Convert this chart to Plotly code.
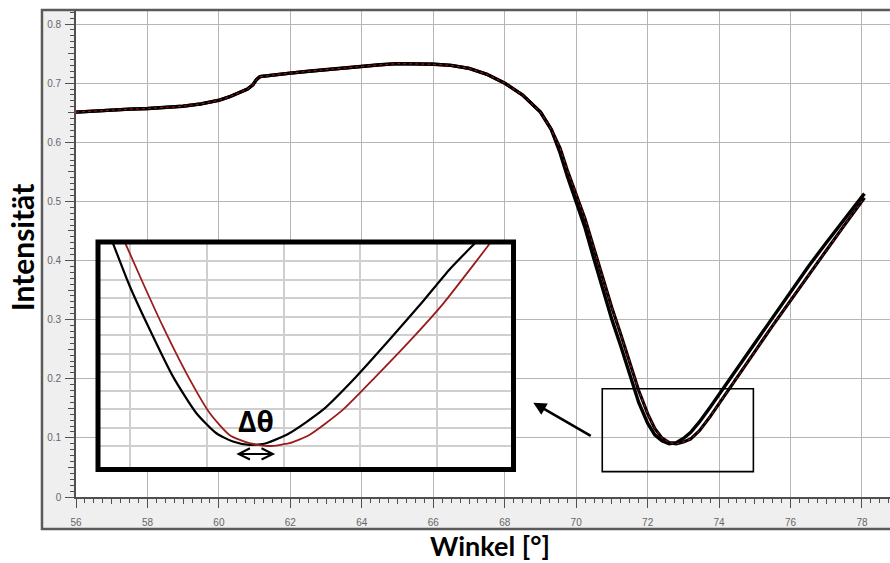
import plotly.graph_objects as go

# ---------------- data (main plot) ----------------
angle = [56, 56.5, 57, 57.5, 58, 58.5, 59, 59.5, 60, 60.3, 60.6, 60.8, 60.95, 61.05, 61.15, 61.4,
         62, 62.5, 63, 63.5, 64, 64.5, 65, 65.5, 66, 66.5, 67, 67.5, 68, 68.5, 69, 69.3,
         69.55, 69.75, 70.0, 70.25, 70.5, 70.75, 71.0, 71.25, 71.5, 71.75, 72.0, 72.2, 72.4,
         72.6, 72.8, 73.0, 73.2, 73.45, 73.75, 74.05, 74.35, 74.7, 75.0, 75.5, 76.0, 76.5,
         77.0, 77.5, 78.0, 78.07]
intensity_ref = [0.651, 0.653, 0.655, 0.656, 0.657, 0.659, 0.661, 0.665, 0.671, 0.677, 0.684, 0.690,
                 0.697, 0.706, 0.711, 0.713, 0.717, 0.720, 0.723, 0.726, 0.729, 0.731, 0.733, 0.733,
                 0.732, 0.730, 0.725, 0.715, 0.700, 0.680, 0.651, 0.622,
                 0.582, 0.543, 0.500, 0.455, 0.402, 0.350, 0.300, 0.255, 0.205, 0.160, 0.125, 0.105,
                 0.095, 0.090, 0.092, 0.099, 0.109, 0.127, 0.152, 0.178, 0.205, 0.236, 0.262, 0.305,
                 0.347, 0.390, 0.430, 0.470, 0.508, 0.513]
intensity_shift = [0.651, 0.653, 0.655, 0.656, 0.657, 0.659, 0.661, 0.665, 0.671, 0.677, 0.684, 0.690,
                   0.697, 0.706, 0.711, 0.713, 0.717, 0.720, 0.723, 0.726, 0.729, 0.731, 0.733, 0.733,
                   0.732, 0.730, 0.725, 0.715, 0.700, 0.680, 0.651, 0.622,
                   0.590, 0.553, 0.513, 0.470, 0.420, 0.370, 0.320, 0.275, 0.226, 0.180, 0.141, 0.116,
                   0.100, 0.092, 0.090, 0.093, 0.098, 0.112, 0.136, 0.162, 0.189, 0.220, 0.246, 0.290,
                   0.333, 0.376, 0.417, 0.459, 0.500, 0.506]

# ---------------- data (inset, zoom on the minimum) ----------------
inset_angle_ref = [72.155, 72.200, 72.252, 72.312, 72.373, 72.425, 72.468, 72.511, 72.555, 72.615,
                   72.702, 72.789, 72.875, 72.962, 73.031, 73.100]
inset_ref = [0.2000, 0.1761, 0.1527, 0.1275, 0.1077, 0.0969, 0.0924, 0.0906, 0.0915, 0.0969,
             0.1095, 0.1275, 0.1473, 0.1680, 0.1852, 0.2000]
inset_angle_shift = [72.187, 72.234, 72.286, 72.347, 72.408, 72.459, 72.511, 72.563, 72.615, 72.667,
                     72.754, 72.840, 72.927, 73.013, 73.091, 73.139]
inset_shift = [0.2000, 0.1780, 0.1545, 0.1293, 0.1077, 0.0960, 0.0915, 0.0900, 0.0915, 0.0960,
               0.1095, 0.1275, 0.1464, 0.1663, 0.1870, 0.2000]

x_ticks = [56, 58, 60, 62, 64, 66, 68, 70, 72, 74, 76, 78]
y_ticks = [0, 0.1, 0.2, 0.3, 0.4, 0.5, 0.6, 0.7, 0.8]
y_tick_text = ["0", "0.1", "0.2", "0.3", "0.4", "0.5", "0.6", "0.7", "0.8"]
x_mid_ticks = [57, 59, 61, 63, 65, 67, 69, 71, 73, 75, 77]
y_mid_ticks = [0.05, 0.15, 0.25, 0.35, 0.45, 0.55, 0.65, 0.75]
inset_x_grid = [72.2, 72.4, 72.6, 72.8, 73.0]
inset_y_grid = [0.09, 0.10, 0.11, 0.12, 0.13, 0.14, 0.15, 0.16, 0.17, 0.18, 0.19]

X_RANGE = [56, 78.784]
Y_RANGE = [0, 0.8237]
INSET_X_RANGE = [72.1167, 73.1987]
INSET_Y_RANGE = [0.0773, 0.2003]

AX_COL = "#505050"
TICK_FONT = dict(family="Liberation Sans Narrow, Liberation Sans, sans-serif", size=10, color="#666666")
RED = "#9a1c1c"

fig = go.Figure()

# main curves
fig.add_trace(go.Scatter(x=angle, y=intensity_ref, mode="lines",
                         line=dict(color="black", width=3.4), hoverinfo="skip", showlegend=False))
fig.add_trace(go.Scatter(x=angle, y=intensity_shift, mode="lines",
                         line=dict(color="black", width=3.2), hoverinfo="skip", showlegend=False))
fig.add_trace(go.Scatter(x=angle, y=intensity_shift, mode="lines",
                         line=dict(color="#c01010", width=1, dash="dot"), hoverinfo="skip", showlegend=False))

# overlay axes for medium-length ticks
fig.add_trace(go.Scatter(x=[None], y=[None], xaxis="x3", yaxis="y3", mode="lines",
                         hoverinfo="skip", showlegend=False))

# inset curves
fig.add_trace(go.Scatter(x=inset_angle_ref, y=inset_ref, mode="lines", xaxis="x2", yaxis="y2",
                         line=dict(color="black", width=2.2, shape="spline", smoothing=0.6),
                         hoverinfo="skip", showlegend=False))
fig.add_trace(go.Scatter(x=inset_angle_shift, y=inset_shift, mode="lines", xaxis="x2", yaxis="y2",
                         line=dict(color=RED, width=1.8, shape="spline", smoothing=0.6),
                         hoverinfo="skip", showlegend=False))

fig.update_layout(
    width=890, height=563,
    margin=dict(l=76, r=0, t=10, b=66),
    paper_bgcolor="white", plot_bgcolor="white",
    xaxis=dict(range=X_RANGE, tickvals=x_ticks, ticks="outside", ticklen=9, tickwidth=1.2,
               tickcolor=AX_COL, showline=True, linecolor=AX_COL, linewidth=1.6,
               showgrid=True, gridcolor="#b5b5b5", gridwidth=1.2, zeroline=False,
               tickfont=TICK_FONT, ticklabelstandoff=6,
               minor=dict(dtick=0.25, tick0=56, ticks="outside", ticklen=4, tickcolor=AX_COL,
                          tickwidth=1, showgrid=False)),
    yaxis=dict(range=Y_RANGE, tickvals=y_ticks, ticktext=y_tick_text, ticks="outside", ticklen=9,
               tickwidth=1.2, tickcolor=AX_COL, showline=True, linecolor=AX_COL, linewidth=1.6,
               showgrid=True, gridcolor="#b5b5b5", gridwidth=1.2, zeroline=False,
               tickfont=TICK_FONT, ticklabelstandoff=2,
               minor=dict(dtick=0.01, tick0=0, ticks="outside", ticklen=4, tickcolor=AX_COL,
                          tickwidth=1, showgrid=False)),
    xaxis3=dict(range=X_RANGE, overlaying="x", anchor="y", tickvals=x_mid_ticks, ticks="outside",
                ticklen=6, tickwidth=1.2, tickcolor=AX_COL, showticklabels=False, showgrid=False,
                zeroline=False, showline=False),
    yaxis3=dict(range=Y_RANGE, overlaying="y", anchor="x", tickvals=y_mid_ticks, ticks="outside",
                ticklen=7, tickwidth=1.2, tickcolor=AX_COL, showticklabels=False, showgrid=False,
                zeroline=False, showline=False),
    xaxis2=dict(domain=[0.02703, 0.53747], anchor="y2", range=INSET_X_RANGE, tickvals=inset_x_grid,
                showticklabels=False, ticks="", showgrid=True, gridcolor="#cfcfcf", gridwidth=1.6,
                zeroline=False, showline=False),
    yaxis2=dict(domain=[0.05647, 0.52361], anchor="x2", range=INSET_Y_RANGE, tickvals=inset_y_grid,
                showticklabels=False, ticks="", showgrid=True, gridcolor="#cfcfcf", gridwidth=1.6,
                zeroline=False, showline=False),
)

# gray axis panels + outer frame
fig.add_shape(type="rect", xref="paper", yref="paper", x0=-0.0418, x1=0, y0=-0.0657, y1=1.0,
              fillcolor="#efefef", line=dict(width=0), layer="below")
fig.add_shape(type="rect", xref="paper", yref="paper", x0=-0.0418, x1=1.02, y0=-0.0657, y1=0,
              fillcolor="#efefef", line=dict(width=0), layer="below")
fig.add_shape(type="rect", xref="paper", yref="paper", x0=-0.0418, x1=1.02, y0=-0.0657, y1=1.0,
              fillcolor="rgba(0,0,0,0)", line=dict(color="#5a5a5a", width=2.5), layer="above")

# zoom rectangle in main plot
fig.add_shape(type="rect", xref="x", yref="y", x0=70.73, x1=74.96, y0=0.043, y1=0.183,
              line=dict(color="black", width=1.6), layer="above")
# inset frame
fig.add_shape(type="rect", xref="x2 domain", yref="y2 domain", x0=0, x1=1, y0=0, y1=1,
              line=dict(color="black", width=5), layer="above")

# arrow from rectangle to inset
fig.add_annotation(x=68.80, y=0.1596, ax=70.45, ay=0.102, xref="x", yref="y", axref="x", ayref="y",
                   text="", showarrow=True, arrowhead=2, arrowsize=1, arrowwidth=2.6, arrowcolor="black")

# delta theta double arrow and label
fig.add_annotation(x=72.578, y=0.0857, ax=72.473, ay=0.0857, xref="x2", yref="y2", axref="x2", ayref="y2",
                   text="", showarrow=True, arrowhead=5, startarrowhead=5, arrowside="end+start",
                   arrowsize=1.1, startarrowsize=1.1, arrowwidth=2, arrowcolor="black")
fig.add_annotation(x=72.528, y=0.1035, xref="x2", yref="y2", text="<b>Δθ</b>", showarrow=False,
                   font=dict(family="Open Sans, sans-serif", size=28, color="black"))

# axis titles
fig.add_annotation(x=-0.0663, y=0.513, xref="paper", yref="paper", text="<b>Intensität</b>",
                   textangle=-90, showarrow=False, xanchor="center", yanchor="middle",
                   font=dict(family="Lato, sans-serif", size=30, color="black"))
fig.add_annotation(x=0.5086, y=-0.1006, xref="paper", yref="paper", text="<b>Winkel [°]</b>",
                   showarrow=False, xanchor="center", yanchor="middle",
                   font=dict(family="Lato, sans-serif", size=27, color="black"))

fig.write_html("out.html")
